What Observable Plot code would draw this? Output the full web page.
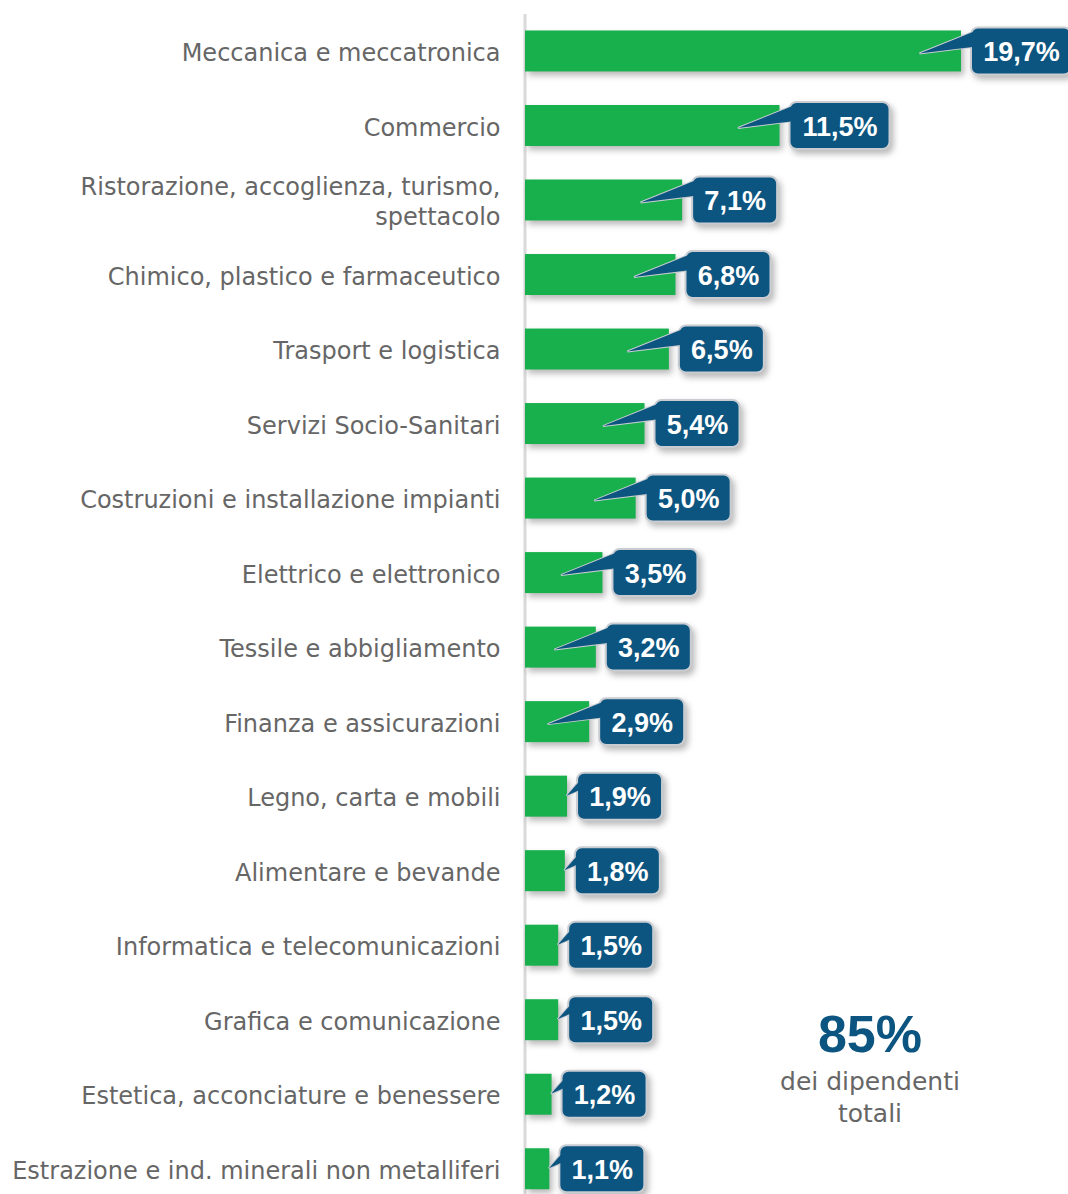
<!DOCTYPE html>
<html>
<head>
<meta charset="utf-8">
<script src="https://cdn.jsdelivr.net/npm/d3@7"></script>
<script src="https://cdn.jsdelivr.net/npm/@observablehq/plot@0.6"></script>
<style>
  html, body { margin: 0; padding: 0; background: #ffffff; }
  #wrap { position: relative; width: 1068px; height: 1194px; overflow: hidden; }
  #note { position: absolute; left: 770px; top: 1006px; width: 200px; text-align: center; }
  #note .big { font-family: "Liberation Sans", sans-serif; font-weight: bold; font-size: 52px; color: #0c5580; line-height: 56px; }
  #note .small { font-family: "DejaVu Sans", sans-serif; font-size: 25px; color: #666666; line-height: 32px; margin-top: 4px; }
</style>
</head>
<body>
<div id="wrap">
  <div id="chart"></div>
  <div id="note"><div class="big">85%</div><div class="small">dei dipendenti<br>totali</div></div>
</div>
<script>
const categories = [
  "Meccanica e meccatronica",
  "Commercio",
  "Ristorazione, accoglienza, turismo, spettacolo",
  "Chimico, plastico e farmaceutico",
  "Trasport e logistica",
  "Servizi Socio-Sanitari",
  "Costruzioni e installazione impianti",
  "Elettrico e elettronico",
  "Tessile e abbigliamento",
  "Finanza e assicurazioni",
  "Legno, carta e mobili",
  "Alimentare e bevande",
  "Informatica e telecomunicazioni",
  "Grafica e comunicazione",
  "Estetica, acconciature e benessere",
  "Estrazione e ind. minerali non metalliferi"
];
const values = [19.7, 11.5, 7.1, 6.8, 6.5, 5.4, 5.0, 3.5, 3.2, 2.9, 1.9, 1.8, 1.5, 1.5, 1.2, 1.1];
const wrapped = {"Ristorazione, accoglienza, turismo, spettacolo": "Ristorazione, accoglienza, turismo,\nspettacolo"};

const data = categories.map((c, i) => ({
  cat: c,
  value: values[i],
  label: values[i].toFixed(1).replace(".", ",") + "%"
}));

const GREEN = "#17b04c";
const BLUE = "#0c5580";
const EDGE = "#c9cdd2";
const WIDE = 100, NARROW = 85, GAP = 10;

const longPointer = {draw(ctx) { ctx.moveTo(-42, 2); ctx.lineTo(15, -21); ctx.lineTo(15, -5); ctx.closePath(); }};
const shortPointer = {draw(ctx) { ctx.moveTo(-1, -1); ctx.lineTo(15, -19); ctx.lineTo(15, -8); ctx.closePath(); }};
const isLong = d => d.value >= 2.5;
const isWide = d => d.value >= 10;

const shadow = "drop-shadow(3px 4px 3px rgba(0,0,0,0.28))";

function box(filter, w) {
  return Plot.barX(data, {
    filter, x1: "value", x2: "value", y: "cat",
    insetLeft: GAP, insetRight: -(w + GAP), insetTop: -3, insetBottom: -3,
    rx: 7, fill: BLUE, stroke: EDGE, strokeWidth: 2, imageFilter: shadow
  });
}
function label(filter, w) {
  return Plot.text(data, {
    filter, x: "value", y: "cat", text: "label", dx: GAP + w / 2, dy: 1,
    fill: "white", fontSize: 27, fontWeight: "bold", fontFamily: "Liberation Sans, sans-serif"
  });
}

const chart = Plot.plot({
  width: 1068,
  height: 1194,
  marginLeft: 525,
  marginRight: 0,
  marginTop: 14,
  marginBottom: 0,
  style: {background: "white", fontFamily: "DejaVu Sans, sans-serif", overflow: "visible"},
  x: {domain: [0, 19.7], range: [525, 961], axis: null},
  y: {domain: categories, range: [13.7, 1206], paddingInner: 0.45, paddingOuter: 0.225, round: false, axis: null},
  marks: [
    Plot.ruleX([0], {stroke: "#d9d9d9", strokeWidth: 3, dx: -0.5}),
    Plot.barX(data, {x: "value", y: "cat", fill: GREEN, imageFilter: shadow}),
    Plot.dot(data, {filter: isLong, x: "value", y: "cat", symbol: longPointer, fill: BLUE, stroke: EDGE, strokeWidth: 2}),
    Plot.dot(data, {filter: d => !isLong(d), x: "value", y: "cat", symbol: shortPointer, fill: BLUE, stroke: EDGE, strokeWidth: 2}),
    box(isWide, WIDE),
    box(d => !isWide(d), NARROW),
    Plot.dot(data, {filter: isLong, x: "value", y: "cat", symbol: longPointer, fill: BLUE}),
    Plot.dot(data, {filter: d => !isLong(d), x: "value", y: "cat", symbol: shortPointer, fill: BLUE}),
    label(isWide, WIDE),
    label(d => !isWide(d), NARROW),
    Plot.text(data, {
      x: 0, y: "cat", text: d => wrapped[d.cat] || d.cat, dx: -25, textAnchor: "end",
      fontSize: 24, lineHeight: 1.25, fill: "#666666"
    })
  ]
});
document.getElementById("chart").appendChild(chart);
</script>
</body>
</html>
